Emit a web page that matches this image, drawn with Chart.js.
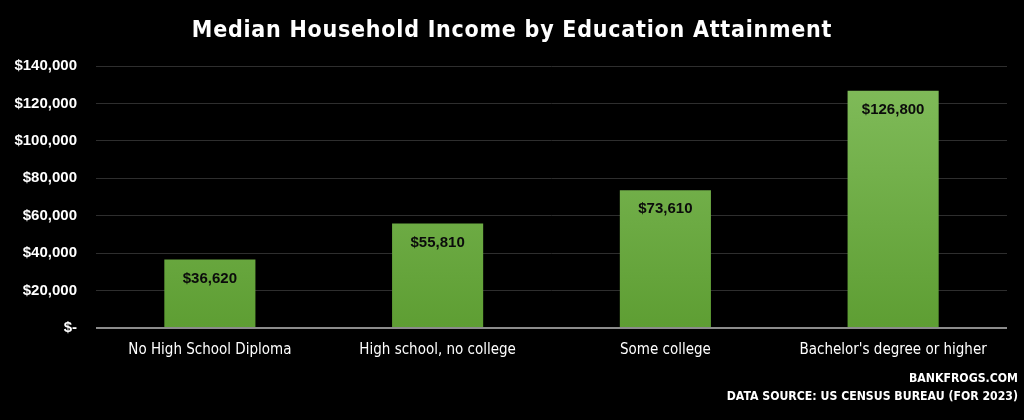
<!DOCTYPE html>
<html>
<head>
<meta charset="utf-8">
<script src="https://cdn.jsdelivr.net/npm/chart.js@4"></script>
<style>
  html, body { margin: 0; padding: 0; background: #000; }
  #wrap { width: 1024px; height: 420px; }
</style>
</head>
<body>
<div id="wrap"><canvas id="myChart" width="1024" height="420"></canvas></div>
<script>
const categories = [
  "No High School Diploma",
  "High school, no college",
  "Some college",
  "Bachelor's degree or higher",
];
const incomeValues = [36620, 55810, 73610, 126800];
const yTicks = [0, 20000, 40000, 60000, 80000, 100000, 120000, 140000];
const titleText = "Median Household Income by Education Attainment";
const footerLines = ["BANKFROGS.COM", "DATA SOURCE: US CENSUS BUREAU (FOR 2023)"];

const condensed = "'DejaVu Sans Condensed', 'Liberation Sans Narrow', sans-serif";
const arialish = "'Liberation Sans', Arial, sans-serif";

const money = (v) => (v === 0 ? "$-" : "$" + v.toLocaleString("en-US"));

const barGradient = (context) => {
  const { chart } = context;
  const area = chart.chartArea;
  if (!area) return "#6aab42";
  const g = chart.ctx.createLinearGradient(0, area.top, 0, area.bottom);
  g.addColorStop(0, "#82bd5c");
  g.addColorStop(1, "#5e9e33");
  return g;
};

// bar values, title and footer text drawn on the canvas
const textOverlay = {
  id: "textOverlay",
  afterDatasetsDraw(chart) {
    const c = chart.ctx;
    const meta = chart.getDatasetMeta(0);
    c.save();
    c.fillStyle = "#0b0b0b";
    c.font = "bold 15px " + arialish;
    c.textAlign = "center";
    c.textBaseline = "middle";
    meta.data.forEach((bar, i) => {
      c.fillText(money(incomeValues[i]), bar.x, bar.y + 19);
    });
    c.restore();
  },
  afterDraw(chart) {
    const c = chart.ctx;
    c.save();
    c.fillStyle = "#ffffff";
    c.textBaseline = "alphabetic";

    c.font = "bold 23px " + condensed;
    c.letterSpacing = "0.75px";
    c.textAlign = "center";
    c.fillText(titleText, chart.width / 2, 37);

    c.letterSpacing = "0px";
    c.font = "bold 12.2px " + condensed;
    c.textAlign = "right";
    c.textBaseline = "middle";
    c.fillText(footerLines[0], 1018, 379);
    c.fillText(footerLines[1], 1018, 397);
    c.restore();
  },
};

const ctx = document.getElementById("myChart").getContext("2d");

new Chart(ctx, {
  type: "bar",
  data: {
    labels: categories,
    datasets: [
      {
        data: incomeValues,
        backgroundColor: barGradient,
        borderWidth: 0,
        barPercentage: 0.4,
        categoryPercentage: 1,
      },
    ],
  },
  options: {
    responsive: false,
    animation: false,
    layout: { padding: { left: 14, right: 17, top: 66, bottom: 56 } },
    plugins: {
      legend: { display: false },
      tooltip: { enabled: false },
      title: { display: false },
    },
    scales: {
      x: {
        grid: { display: false },
        border: { display: false },
        ticks: {
          color: "#ffffff",
          font: { family: condensed, size: 15 },
          padding: 5,
        },
      },
      y: {
        min: 0,
        max: 140000,
        border: { display: false },
        afterBuildTicks: (axis) => {
          axis.ticks = yTicks.map((v) => ({ value: v }));
        },
        afterFit: (axis) => {
          axis.width = 82;
        },
        grid: {
          drawTicks: false,
          color: (c) => (c.tick && c.tick.value === 0 ? "#8c8c8c" : "#2e2e2e"),
          lineWidth: (c) => (c.tick && c.tick.value === 0 ? 2 : 1),
        },
        ticks: {
          color: "#ffffff",
          font: { family: arialish, size: 15, weight: "bold" },
          padding: 19,
          callback: (v) => money(v),
        },
      },
    },
  },
  plugins: [textOverlay],
});
</script>
</body>
</html>
